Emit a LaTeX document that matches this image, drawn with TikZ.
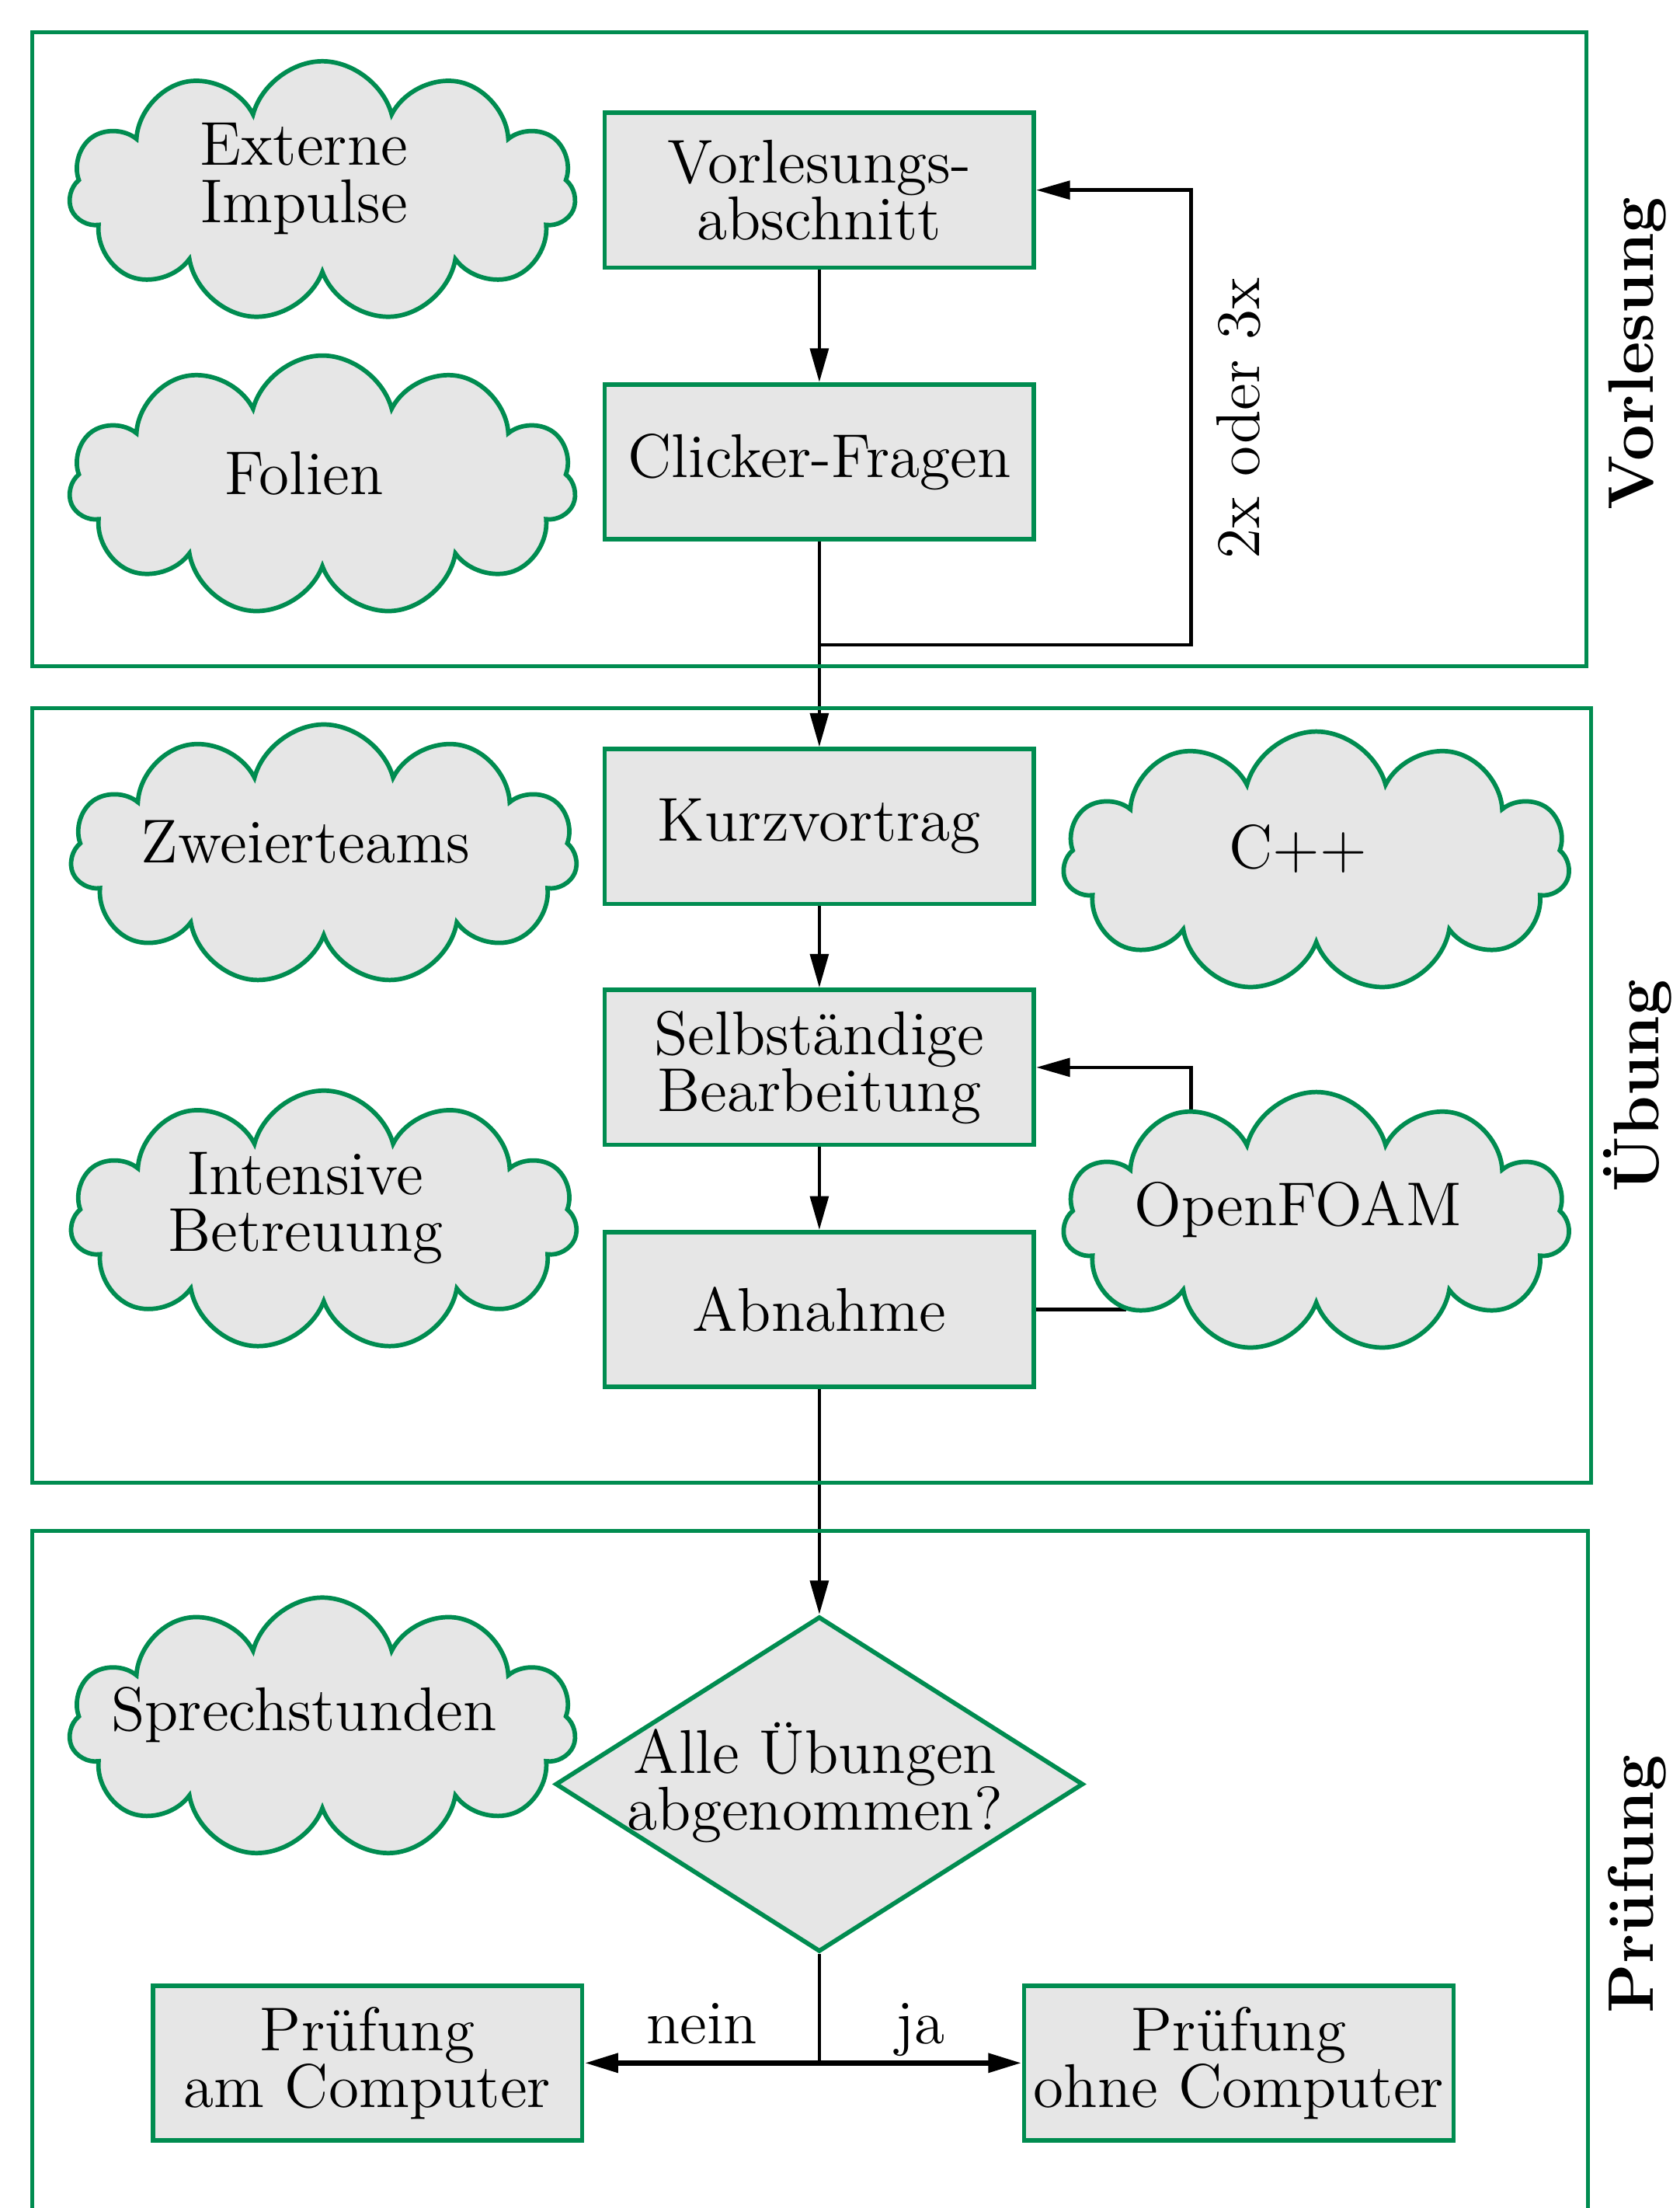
\documentclass[tikz,border=0pt]{standalone}
\usepackage{tikz}
\usetikzlibrary{shapes.symbols, shapes.geometric, arrows.meta, backgrounds}
\definecolor{rahmengruen}{RGB}{0,140,80}
\definecolor{kastengrau}{RGB}{230,230,230}

\begin{document}
\begin{tikzpicture}[
  every node/.style={font=\fontsize{12.5}{11.5}\selectfont},
  kasten/.style={rectangle, draw=rahmengruen, fill=kastengrau, line width=0.9pt,
    minimum width=3.05cm, minimum height=1.1cm, align=center, inner sep=0pt},
  wolke/.style={cloud, cloud puffs=11, aspect=2, draw=rahmengruen, fill=kastengrau,
    line width=0.9pt, minimum width=3.6cm, minimum height=1.85cm, inner sep=0pt},
  wolkentext/.style={align=center, xshift=-1.3mm, yshift=0.9mm},
  raute/.style={diamond, draw=rahmengruen, fill=kastengrau, line width=0.9pt,
    minimum width=3.75cm, minimum height=2.38cm, inner sep=0pt},
  rahmen/.style={draw=rahmengruen, line width=0.8pt},
  bereich/.style={rotate=90, font=\fontsize{13}{14}\selectfont\bfseries},
  pfeil/.style={-{Triangle[length=2.4mm,width=1.3mm]}, line width=0.7pt}
]
  \useasboundingbox (0,0) rectangle (11.93,-15.68);

  % Bereiche
  \draw[rahmen] (0.23,-0.23) rectangle (11.27,-4.73);
  \draw[rahmen] (0.23,-5.03) rectangle (11.30,-10.53);
  \draw[rahmen] (0.23,-15.9) -- (0.23,-10.87) -- (11.28,-10.87) -- (11.28,-15.9);
  \node[bereich] (lblVorl) at (11.63,-2.51) {Vorlesung};
  \node[bereich] (lblUeb) at (11.63,-7.71) {Übung};
  \node[bereich] (lblPruef) at (11.63,-13.38) {Prüfung};

  % Vorlesung
  \node[kasten] (vorl) at (5.82,-1.35) {Vorlesungs-\\abschnitt};
  \node[kasten] (click) at (5.82,-3.28) {Clicker-Fragen};
  \node[wolke, label={[wolkentext]center:{Externe\\Impulse}}] (ext) at (2.29,-1.36) {};
  \node[wolke, label={[wolkentext]center:Folien}] (fol) at (2.29,-3.45) {};
  \node[rotate=90] (wdh) at (8.80,-2.97) {2x oder 3x};

  % Uebung
  \node[kasten] (kurz) at (5.82,-5.87) {Kurzvortrag};
  \node[kasten] (selbst) at (5.82,-7.58) {Selbständige\\Bearbeitung};
  \node[kasten] (abn) at (5.82,-9.30) {Abnahme};
  \node[wolke, label={[wolkentext]center:Zweierteams}] (zwei) at (2.30,-6.07) {};
  \node[wolke, label={[wolkentext]center:{Intensive\\Betreuung}}] (intens) at (2.30,-8.67) {};
  \node[wolke, label={[wolkentext]center:C++}] (cpp) at (9.35,-6.12) {};
  \node[wolke, label={[wolkentext]center:OpenFOAM}] (foam) at (9.35,-8.68) {};

  % Pruefung
  \node[raute] (frage) at (5.82,-12.67) {};
  \node[align=center] (frageText) at (5.79,-12.66) {Alle Übungen\\abgenommen?};
  \node[wolke, label={[wolkentext]center:Sprechstunden}] (sprech) at (2.29,-12.27) {};
  \node[kasten] (prAm) at (2.61,-14.65) {Prüfung\\am Computer};
  \node[kasten] (prOhne) at (8.80,-14.65) {Prüfung\\ohne Computer};

  % Verbindungen
  \coordinate (knick) at (5.82,-4.58);
  \coordinate (rueck) at (8.46,-4.58);
  \coordinate (foamEck) at (8.46,-7.58);
  \coordinate (foamLinks) at (8.0,-9.30);
  \coordinate (verzweig) at (5.82,-14.65);
  \begin{scope}[on background layer]
    \draw[pfeil] (vorl) -- (click);
    \draw[pfeil] (click) -- (kurz);
    \draw[pfeil] (knick) -- (rueck) |- (vorl);
    \draw[pfeil] (kurz) -- (selbst);
    \draw[pfeil] (selbst) -- (abn);
    \draw[pfeil] (foamEck |- foam) -- (foamEck) -- (selbst);
    \draw[line width=0.7pt] (abn) -- (foamLinks);
    \draw[pfeil] (abn) -- (frage);
    \draw[line width=0.7pt] (frage) -- (verzweig);
    \draw[pfeil, line width=1.2pt] (verzweig) -- (prAm)
      node[midway, above=0pt, text depth=0pt] {nein};
    \draw[pfeil, line width=1.2pt] (verzweig) -- (prOhne)
      node[midway, above=0pt, text depth=0pt] {ja};
  \end{scope}
\end{tikzpicture}
\end{document}
